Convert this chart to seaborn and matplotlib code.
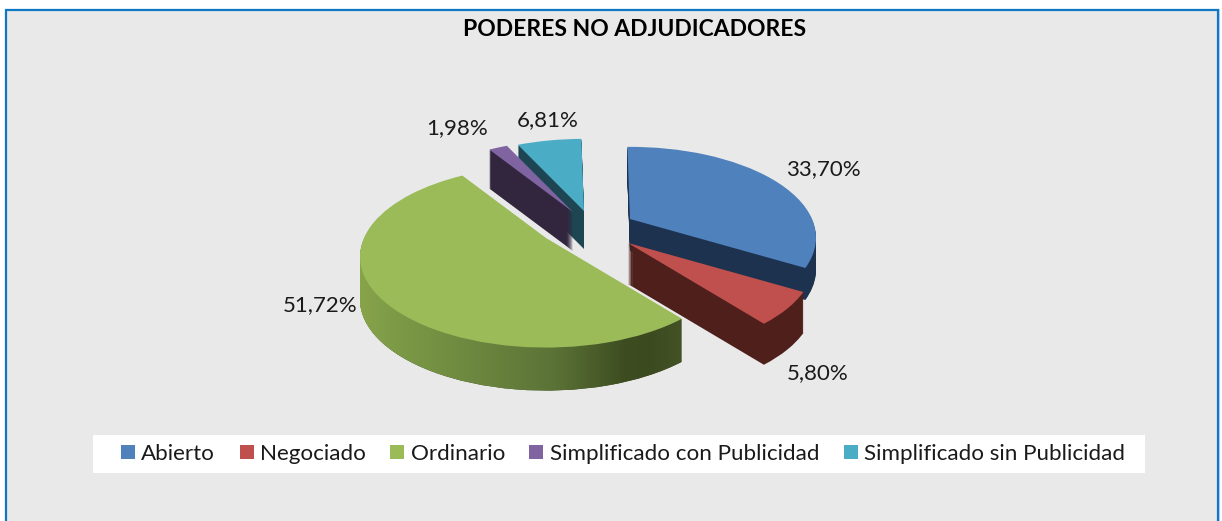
import numpy as np
import matplotlib
matplotlib.use("Agg")
import matplotlib.pyplot as plt
import seaborn as sns
from matplotlib.patches import Patch, PathPatch, Rectangle
from matplotlib.path import Path
from matplotlib.transforms import Affine2D, Transform
from matplotlib.colors import LinearSegmentedColormap

TITLE = "PODERES NO ADJUDICADORES"
categories = ["Abierto", "Negociado", "Ordinario",
              "Simplificado con Publicidad", "Simplificado sin Publicidad"]
values = [33.70, 5.80, 51.72, 1.98, 6.81]

top_colors = ["#4F81BD", "#C0504D", "#9BBB59", "#8064A2", "#4BACC6"]
wall_colors = ["#1D324E", "#4F1F1C", "#3F4F22", "#32263F", "#1E4652"]
# layout of the exploded slices, in pixels
apex_xy = [(630, 219), (628, 243), (546, 238), (573, 212), (584, 211)]
wall_depth = [32, 41, 43, 39, 38]
label_xy = [(823, 169), (818, 373), (320, 305), (457, 128), (548, 120)]
draw_order = [4, 3, 0, 1, 2]

sns.set_theme(style="white")
plt.rcParams["font.family"] = ["Lato", "DejaVu Sans"]
palette = sns.color_palette(top_colors)


class Perspective(Transform):
    """Tilted-plane projection of the unit pie, y pointing down the screen."""
    input_dims = output_dims = 2
    is_separable = False
    has_inverse = False

    def __init__(self, a=182.0, b=87.0, k=0.206):
        super().__init__()
        self.a, self.b, self.k = a, b, k

    def transform_non_affine(self, xy):
        xy = np.asarray(xy, dtype=float)
        w = 1 + self.k * xy[:, 1]
        return np.column_stack([self.a * xy[:, 0] / w, -self.b * xy[:, 1] / w])


fig, ax = plt.subplots(figsize=(12.22, 5.21), dpi=100)
fig.patch.set_facecolor("white")
fig.subplots_adjust(0, 0, 1, 1)


def pie_layer(colors, zorder, dy):
    wedges, _ = ax.pie(values, colors=colors, startangle=91, counterclock=False,
                       wedgeprops={"linewidth": 0})
    for i, w in enumerate(wedges):
        ax_, ay_ = apex_xy[i]
        w.set_transform(Perspective() + Affine2D().translate(ax_, ay_ + dy) + ax.transData)
        w.set_zorder(zorder[i])
    return wedges


rank = {slice_i: 10 + 10 * n for n, slice_i in enumerate(draw_order)}
green_paths = []
for dy in range(max(wall_depth), 0, -1):
    wedges = pie_layer(wall_colors, [rank[i] for i in range(5)], dy)
    for i, w in enumerate(wedges):
        if dy > wall_depth[i]:
            w.set_visible(False)
    tr = Perspective() + Affine2D().translate(apex_xy[2][0], apex_xy[2][1] + dy)
    green_paths.append(tr.transform_path(wedges[2].get_path()))
pie_layer(palette, [rank[i] + 5 for i in range(5)], 0)

# shaded rim of the big slice
rim_cmap = LinearSegmentedColormap.from_list("rim", [
    (0.00, "#8CA94C"), (0.12, "#7F9C48"), (0.35, "#6E8A40"), (0.62, "#5B7236"),
    (0.83, "#3D4C20"), (0.90, "#3C4A20"), (1.00, "#445426")])
rim = ax.imshow(np.linspace(0, 1, 340)[None, :], cmap=rim_cmap, aspect="auto",
                extent=(345, 685, 400, 250), zorder=rank[2] + 1)
rim.set_clip_path(PathPatch(Path.make_compound_path(*green_paths), transform=ax.transData))

ax.set_aspect("auto")
ax.set_xlim(0, 1222)
ax.set_ylim(521, 0)
ax.set_xticks([])
ax.set_yticks([])
ax.set_frame_on(False)

# panel
ax.add_patch(Rectangle((4.5, 8.5), 1214, 540, fc="none", ec="#BBD7EE", lw=0.8, zorder=1))
ax.add_patch(Rectangle((6, 10), 1212, 540, fc="#E9E9E9", ec="#0F77C4", lw=1.6, zorder=2))

for v, (x, y) in zip(values, label_xy):
    ax.text(x, y, f"{v:.2f}%".replace(".", ","), ha="center", va="center",
            fontsize=16, color="#1a1a1a", zorder=200)

ax.set_title(TITLE, fontsize=16.5, fontweight="bold", color="black",
             x=635 / 1222, y=1 - 30 / 521, va="center", pad=0, zorder=200)

# white legend strip
ax.add_patch(Rectangle((93, 435), 1052, 38, fc="white", ec="none", zorder=150))
handles = [Patch(facecolor=c, edgecolor="none") for c in palette]
leg = ax.legend(handles, categories, ncol=5, loc="center",
                bbox_to_anchor=(623, 454), bbox_transform=ax.transData,
                fontsize=16.1, frameon=False, borderpad=0, borderaxespad=0,
                handlelength=0.62, handleheight=0.62, handletextpad=0.28,
                columnspacing=1.1)
leg.set_zorder(200)
for t in leg.get_texts():
    t.set_color("#1a1a1a")

fig.savefig("out.png", dpi=100, facecolor="white")
